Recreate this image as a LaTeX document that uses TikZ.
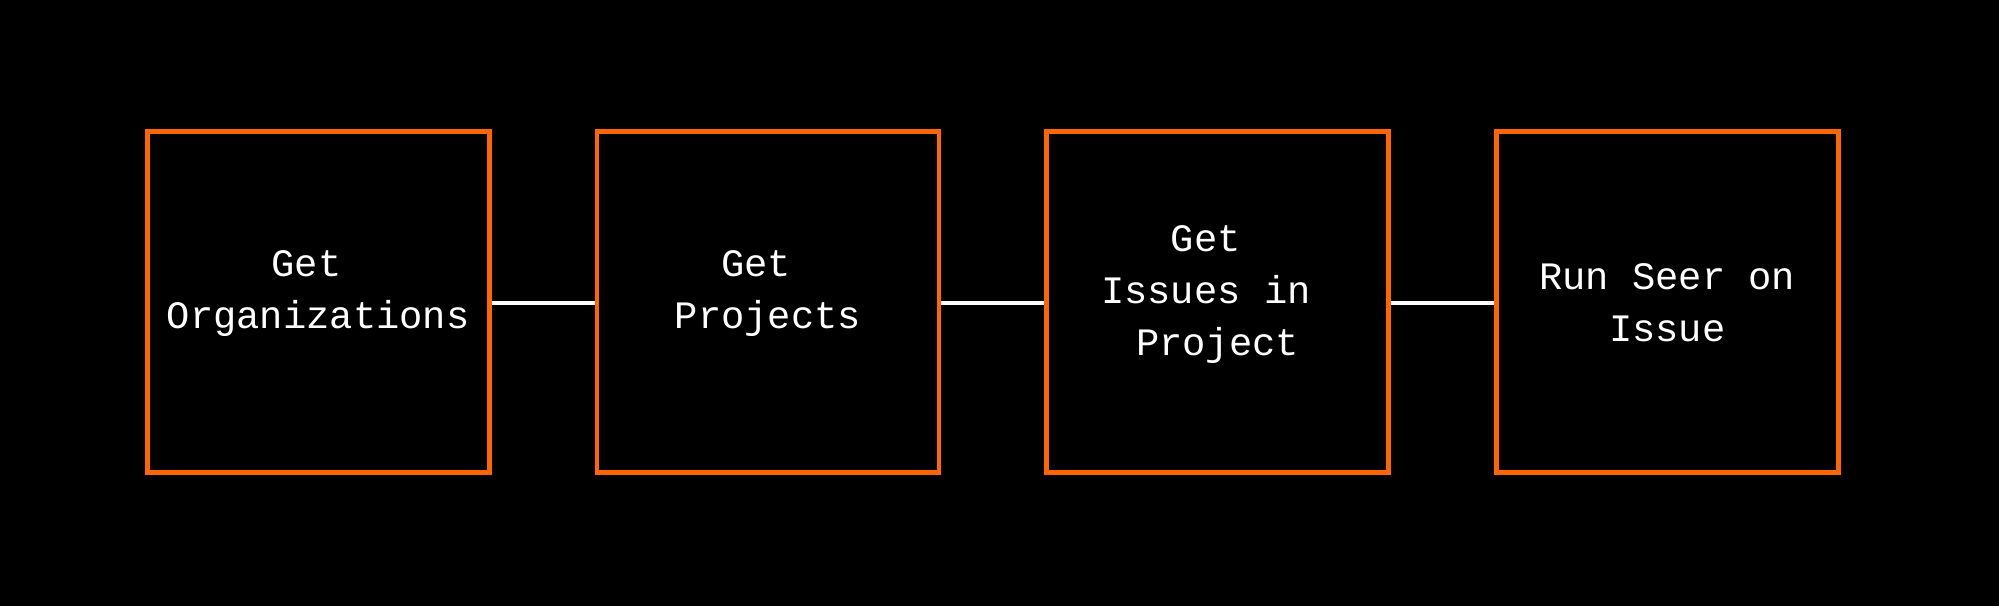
\documentclass[tikz,border=0pt]{standalone}
\usepackage{fontspec}
\setmonofont{Liberation Mono}
\definecolor{boxorange}{RGB}{255,102,0}
\tikzset{
  x=1pt, y=1pt,
  stepbox/.style={draw=boxorange, line width=4.8pt, minimum width=342pt, minimum height=341pt, inner sep=0pt},
  lbl/.style={text=white, anchor=base, inner sep=0pt, font=\ttfamily\fontsize{38.8}{52}\selectfont},
  link/.style={draw=white, line width=4pt}
}
\begin{document}
\begin{tikzpicture}
\useasboundingbox (0,0) rectangle (1999,605);
\fill[black] (-10,-10) rectangle (2009,615);
\node[stepbox] (b1) at (318.2,303.1) {};
\node[stepbox] (b2) at (767.9,303.1) {};
\node[stepbox] (b3) at (1217.5,303.1) {};
\node[stepbox] (b4) at (1667.2,303.1) {};
\node[lbl] (t1) at (318.2,328.6) {\begin{tabular}[t]{@{}c@{}}Get\phantom{x}\\Organizations\end{tabular}};
\node[lbl] (t2) at (767.9,328.6) {\begin{tabular}[t]{@{}c@{}}Get\phantom{x}\\Projects\end{tabular}};
\node[lbl] (t3) at (1217.5,353.5) {\begin{tabular}[t]{@{}c@{}}Get\phantom{x}\\Issues in\phantom{x}\\Project\end{tabular}};
\node[lbl] (t4) at (1667.2,315.8) {\begin{tabular}[t]{@{}c@{}}Run Seer on\\Issue\end{tabular}};
\draw[link] ([yshift=-1pt]b1.east) -- ([yshift=-1pt]b2.west);
\draw[link] ([yshift=-1pt]b2.east) -- ([yshift=-1pt]b3.west);
\draw[link] ([yshift=-1pt]b3.east) -- ([yshift=-1pt]b4.west);
\end{tikzpicture}
\end{document}
